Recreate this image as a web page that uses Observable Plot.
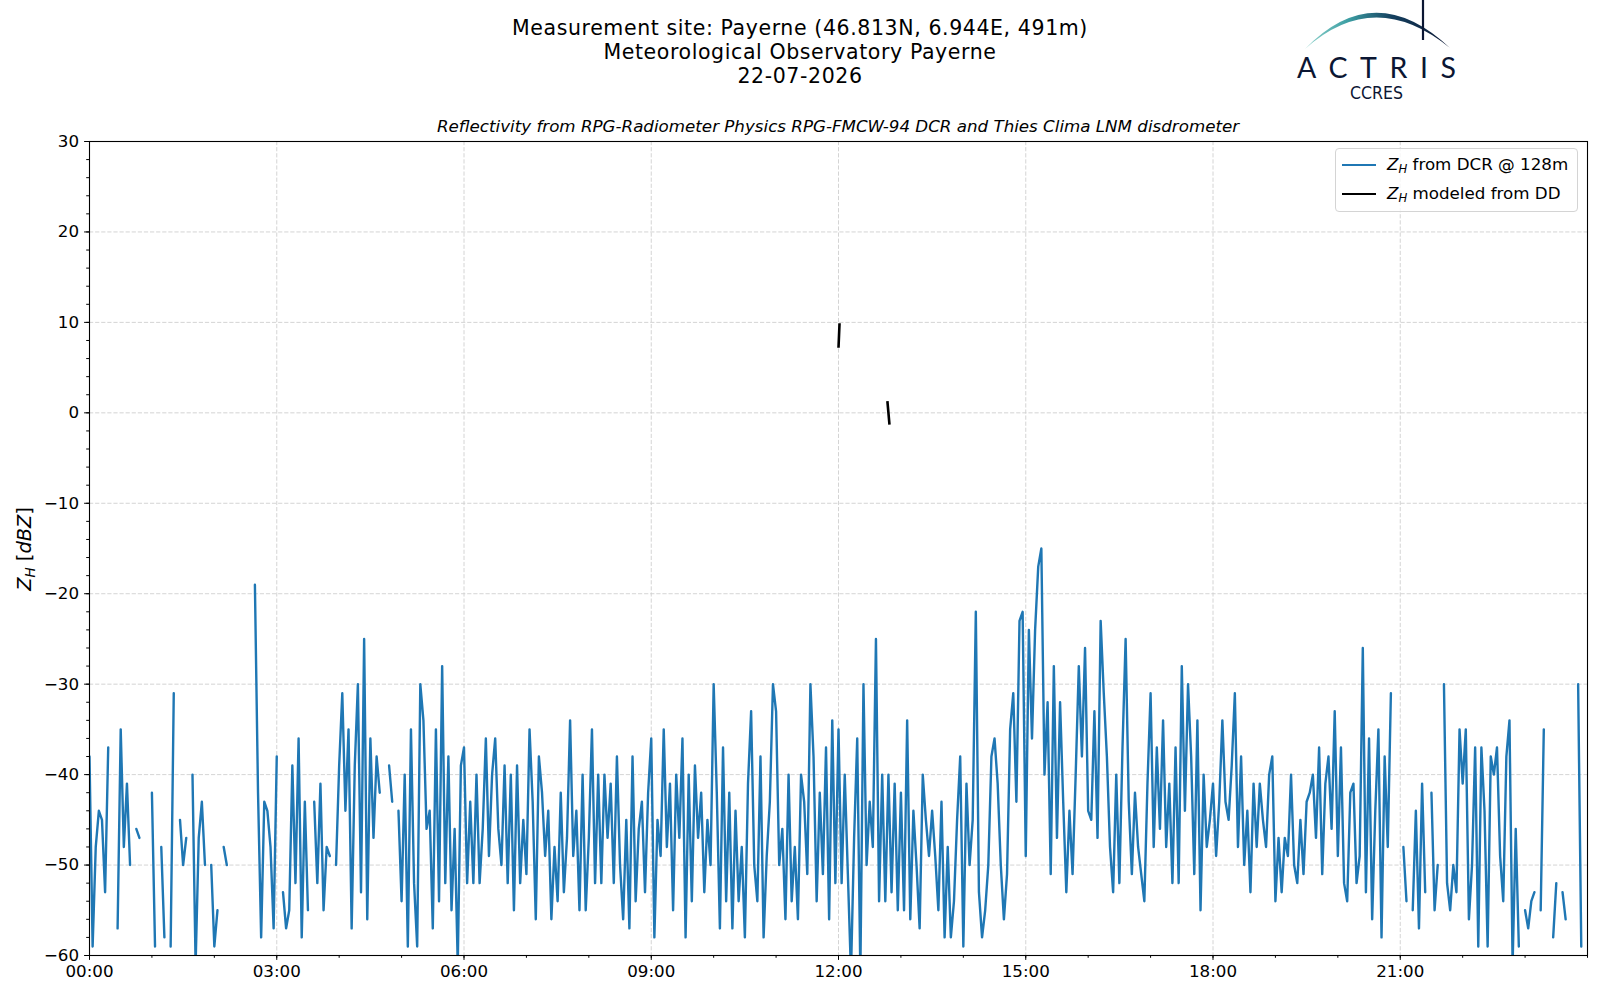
<!DOCTYPE html>
<html>
<head>
<meta charset="utf-8">
<script src="https://cdn.jsdelivr.net/npm/d3@7"></script>
<script src="https://cdn.jsdelivr.net/npm/@observablehq/plot@0.6"></script>
<style>
html,body{margin:0;padding:0;background:#fff;}
#wrap{position:relative;width:1600px;height:1000px;font-family:"DejaVu Sans",sans-serif;color:#000;overflow:hidden;background:#fff;}
.t{position:absolute;white-space:nowrap;line-height:1;}
#title{position:absolute;left:800px;top:15.7px;transform:translateX(-50%);white-space:nowrap;text-align:center;font-size:20.5px;line-height:24px;letter-spacing:0.6px;}
.leg{position:absolute;left:1335px;top:148px;width:241px;height:62px;border:1px solid #d4d4d4;border-radius:4px;background:rgba(255,255,255,0.8);}
.legline{position:absolute;left:6px;width:34px;height:2.2px;}
.legtxt{position:absolute;left:51px;font-size:16.7px;line-height:1;white-space:nowrap;}
sub{font-size:0.7em;vertical-align:-0.28em;line-height:0;}
</style>
</head>
<body>
<div id="wrap">
  <div id="title">Measurement site: Payerne (46.813N, 6.944E, 491m)<br>Meteorological Observatory Payerne<br>22-07-2026</div>
  <div class="t" style="left:838px;top:117.7px;font-size:16.7px;font-style:italic;transform:translateX(-50%);">Reflectivity from RPG-Radiometer Physics RPG-FMCW-94 DCR and Thies Clima LNM disdrometer</div>
  <div class="t" style="left:24.5px;top:549px;font-size:19.4px;transform:translate(-50%,-50%) rotate(-90deg);"><i>Z</i><sub><i>H</i></sub> [<i>dBZ</i>]</div>
</div>
<script>
// ---- DCR reflectivity Z_H @ 128 m, 3-minute samples, one array per 3-hour block (dBZ; null = no data)
const zh00 = [
  -38,-59,-48,-44,-45,-53,-37,null,null,-57,
  -35,-48,-41,-50,null,-46,-47,null,null,null,
  -42,-59,null,-48,-58,null,-59,-31,null,-45,
  -50,-47,null,-40,-61,-47,-43,-50,null,-50,
  -59,-55,null,-48,-50,null,null,null,null,null,
  null,null,null,-19,-42,-58,-43,-44,-48,-57];
const zh03 = [
  -38,null,-53,-57,-55,-39,-52,-36,-58,-43,
  -55,null,-43,-52,-41,-55,-48,-49,null,-50,
  -39,-31,-44,-35,-57,-39,-30,-53,-25,-56,
  -36,-47,-38,-42,null,null,-39,-43,null,-44,
  -54,-40,-59,-35,-52,-59,-30,-34,-46,-44,
  -57,-35,-54,-28,-52,-38,-55,-46,-61,-39];
const zh06 = [
  -37,-52,-43,-52,-40,-52,-46,-36,-49,-40,
  -36,-46,-50,-39,-52,-40,-55,-39,-52,-45,
  -51,-35,-43,-56,-38,-42,-49,-44,-56,-48,
  -54,-42,-53,-47,-34,-49,-44,-55,-40,-55,
  -47,-35,-52,-40,-52,-40,-47,-41,-52,-38,
  -50,-56,-45,-57,-38,-54,-46,-43,-53,-42];
const zh09 = [
  -36,-58,-45,-49,-35,-48,-41,-55,-40,-47,
  -36,-58,-40,-54,-39,-47,-42,-53,-45,-50,
  -30,-42,-57,-37,-54,-42,-57,-44,-54,-48,
  -58,-41,-33,-50,-54,-38,-58,-49,-43,-30,
  -33,-50,-46,-56,-40,-54,-48,-56,-40,-43,
  -51,-30,-38,-54,-42,-51,-37,-56,-34,-52];
const zh12 = [
  -35,-52,-40,-51,-62,-47,-36,-62,-30,-50,
  -43,-48,-25,-54,-40,-54,-40,-53,-41,-55,
  -42,-55,-34,-56,-44,-50,-57,-40,-45,-49,
  -44,-49,-55,-43,-58,-48,-58,-54,-45,-38,
  -59,-41,-50,-45,-22,-53,-58,-55,-50,-38,
  -36,-41,-50,-56,-51,-35,-31,-43,-23,-22];
const zh15 = [
  -49,-24,-36,-24,-17,-15,-40,-32,-51,-28,
  -47,-32,-43,-53,-44,-51,-40,-28,-38,-26,
  -44,-45,-33,-47,-23,-31,-38,-48,-53,-40,
  -52,-37,-25,-43,-51,-42,-48,-51,-54,-41,
  -31,-48,-37,-46,-34,-48,-41,-52,-37,-52,
  -28,-44,-30,-38,-51,-34,-55,-40,-48,-45];
const zh18 = [
  -41,-49,-43,-34,-43,-45,-39,-31,-48,-38,
  -50,-44,-53,-41,-48,-41,-45,-48,-40,-38,
  -54,-47,-53,-47,-49,-40,-50,-52,-45,-51,
  -43,-42,-40,-47,-37,-51,-41,-38,-46,-33,
  -49,-37,-52,-54,-42,-41,-52,-49,-26,-53,
  -36,-56,-44,-35,-58,-38,-48,-31,null,null];
const zh21 = [
  null,-48,-54,null,-55,-44,-57,-41,-53,null,
  -42,-55,-50,null,-30,-52,-55,-50,-53,-35,
  -41,-35,-56,-50,-37,-59,-37,-44,-59,-38,
  -40,-37,-49,-54,-38,-34,-61,-46,-59,null,
  -55,-57,-54,-53,null,-55,-35,null,null,-58,
  -52,null,-53,-56,null,null,null,-30,-59,null];

// ---- Z_H modeled from disdrometer (minutes after 00:00, dBZ)
const ddMinute = [720, 721, 722, 767, 769];
const ddValue  = [7.2, 9.9, null, 1.3, -1.3];

// ---- axis ticks
const xMajor = [0, 3, 6, 9, 12, 15, 18, 21];
const xMinor = d3.range(0, 25, 1);
const yMajor = [-60, -50, -40, -30, -20, -10, 0, 10, 20, 30];
const yMinor = d3.range(-60, 31, 2);

const blocks = [zh00, zh03, zh06, zh09, zh12, zh15, zh18, zh21];
const dcr = blocks.flatMap((arr, b) => arr.map((z, i) => ({t: b * 3 + i * 3 / 60, z})));
const dd = ddMinute.map((m, i) => ({t: m / 60, z: ddValue[i]}));

const fmtH = h => String(h).padStart(2, "0") + ":00";
const grid = {stroke: "#cfcfcf", strokeOpacity: 1, strokeWidth: 0.9, strokeDasharray: "4.2,1.9"};

const chart = Plot.plot({
  width: 1600,
  height: 1000,
  marginTop: 141,
  marginBottom: 45,
  marginLeft: 89,
  marginRight: 13,
  style: {fontFamily: "DejaVu Sans", fontSize: "16.7px", color: "black", background: "transparent", overflow: "visible"},
  x: {domain: [0, 24]},
  y: {domain: [-60, 30]},
  marks: [
    Plot.gridX({ticks: xMajor, ...grid}),
    Plot.gridY({ticks: yMajor, ...grid}),
    Plot.line(dcr, {x: "t", y: "z", stroke: "#1f77b4", strokeWidth: 2.4, clip: true, strokeLinejoin: "round"}),
    Plot.line(dd, {x: "t", y: "z", stroke: "black", strokeWidth: 2.6, clip: true, strokeLinecap: "butt"}),
    Plot.frame({stroke: "black", strokeWidth: 1.1}),
    Plot.axisX({ticks: xMinor, tickSize: 2.8, tickFormat: () => "", label: null}),
    Plot.axisX({ticks: xMajor, tickSize: 4.9, tickPadding: 4.5, tickFormat: fmtH, label: null}),
    Plot.axisY({ticks: yMinor, tickSize: 2.8, tickFormat: () => "", label: null}),
    Plot.axisY({ticks: yMajor, tickSize: 4.9, tickPadding: 5.5, label: null})
  ]
});
chart.style.position = "absolute";
chart.style.left = "0px";
chart.style.top = "0px";
const wrap = document.getElementById("wrap");
wrap.insertBefore(chart, wrap.firstChild);

// ---- legend
const leg = document.createElement("div");
leg.className = "leg";
leg.innerHTML =
  '<div class="legline" style="top:14.5px;background:#1f77b4;"></div>' +
  '<div class="legtxt" style="top:6.5px;"><i>Z</i><sub><i>H</i></sub> from DCR @ 128m</div>' +
  '<div class="legline" style="top:43.5px;background:#000;"></div>' +
  '<div class="legtxt" style="top:35.5px;"><i>Z</i><sub><i>H</i></sub> modeled from DD</div>';
wrap.appendChild(leg);

// ---- ACTRIS / CCRES logo
const logo = document.createElementNS("http://www.w3.org/2000/svg", "svg");
logo.setAttribute("width", "1600");
logo.setAttribute("height", "140");
logo.style.position = "absolute";
logo.style.left = "0px";
logo.style.top = "0px";
logo.innerHTML =
  '<defs><linearGradient id="arcg" x1="1305" y1="0" x2="1450" y2="0" gradientUnits="userSpaceOnUse">' +
  '<stop offset="0" stop-color="#8fd3cc"/><stop offset="0.3" stop-color="#3c9ea3"/>' +
  '<stop offset="0.6" stop-color="#15405f"/><stop offset="1" stop-color="#0b1633"/></linearGradient></defs>' +
  '<path d="M1305,49 Q1374.5,-23 1450,48 Q1374.5,-13.5 1305,49 Z" fill="url(#arcg)"/>' +
  '<line x1="1423" y1="0" x2="1423" y2="40" stroke="#0b1633" stroke-width="2.2"/>' +
  '<text x="1297" y="78.3" font-family="Lato, Open Sans, sans-serif" font-size="28.5" fill="#0b1633" textLength="159" lengthAdjust="spacing">ACTRIS</text>' +
  '<text x="1350" y="99" font-family="DejaVu Sans Condensed, DejaVu Sans, sans-serif" font-size="17.5" fill="#0b1633" textLength="53" lengthAdjust="spacingAndGlyphs">CCRES</text>';
wrap.appendChild(logo);
</script>
</body>
</html>
